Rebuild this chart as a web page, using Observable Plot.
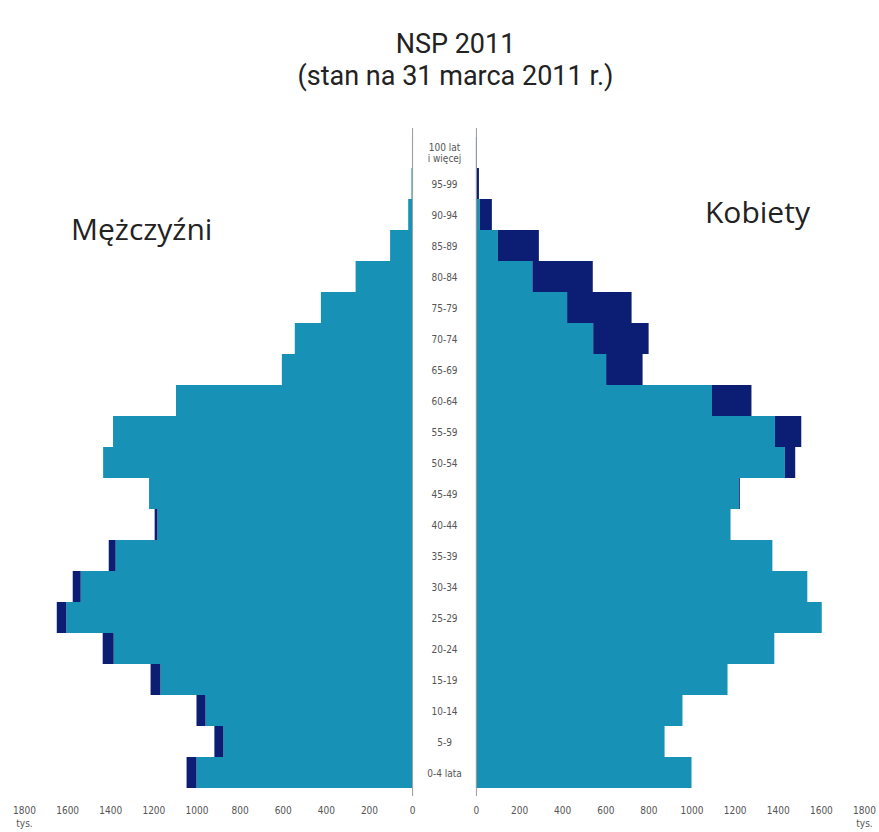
<!DOCTYPE html>
<html>
<head>
<meta charset="utf-8">
<script src="https://cdn.jsdelivr.net/npm/d3@7"></script>
<script src="https://cdn.jsdelivr.net/npm/@observablehq/plot@0.6"></script>
<style>
  html, body { margin: 0; padding: 0; background: #fff; }
  #wrap { position: relative; width: 879px; height: 832px; overflow: hidden; font-family: "Open Sans", "Noto Sans", sans-serif; }
  #title { width: 847px; padding-left: 32px; padding-top: 28px; height: 72px; text-align: center; font-family: Roboto, "Open Sans", sans-serif; font-size: 27px; color: #222; }
  #title div { height: 32px; line-height: 32px; white-space: nowrap; }
  .side { position: absolute; font-size: 30px; line-height: 30px; color: #222; }
  #chart svg { display: block; }
</style>
</head>
<body>
<div id="wrap">
  <div id="title"><div>NSP 2011</div><div>(stan na 31 marca 2011 r.)</div></div>
  <div class="side" style="left:71px; top:214px;">Mężczyźni</div>
  <div class="side" style="left:705px; top:197px;">Kobiety</div>
  <div id="chart"></div>
</div>
<script>
// Age groups, top to bottom
const ages = ["100 lat\ni więcej","95-99","90-94","85-89","80-84","75-79","70-74","65-69","60-64","55-59","50-54","45-49","40-44","35-39","30-34","25-29","20-24","15-19","10-14","5-9","0-4 lata"];
// Population in thousands (tys.)
const men   = [0.6, 3, 18, 102, 262, 423, 544, 604, 1095, 1387, 1433, 1220, 1194, 1407, 1574, 1648, 1435, 1213, 1000, 917, 1046];
const women = [3, 14, 74, 292, 542, 722, 801, 773, 1278, 1509, 1481, 1224, 1181, 1375, 1537, 1604, 1384, 1167, 958, 875, 1000];
const tickValues = [0, 200, 400, 600, 800, 1000, 1200, 1400, 1600, 1800];
const unitLabel = "tys.";

const LIGHT = "#1792b6";
const DARK = "#0c1e74";
const G = 148; // half-gap for the central label column, in data units
const XMAX = 1800 + G;

const rows = ages.map((a, i) => {
  const m = men[i], f = women[i], mn = Math.min(m, f);
  return {age: a, m, f, mn};
});

const light = [];
const dark = [];
for (const r of rows) {
  light.push({age: r.age, x1: -G, x2: -(r.mn + G)});
  light.push({age: r.age, x1: G, x2: r.mn + G});
  if (r.m > r.mn) dark.push({age: r.age, x1: -(r.mn + G), x2: -(r.m + G)});
  if (r.f > r.mn) dark.push({age: r.age, x1: r.mn + G, x2: r.f + G});
}

const ticks = [...tickValues.map(t => -(t + G)), ...tickValues.map(t => t + G)];

const chart = Plot.plot({
  width: 879,
  height: 732,
  marginLeft: 24,
  marginRight: 15,
  marginTop: 28,
  marginBottom: 36,
  style: {fontFamily: "'Liberation Sans Narrow', 'DejaVu Sans Condensed', Roboto, sans-serif", background: "#fff"},
  x: {domain: [-XMAX, XMAX]},
  y: {domain: ages, padding: 0, axis: null},
  marks: [
    Plot.barX(light, {y: "age", x1: "x1", x2: "x2", fill: LIGHT}),
    Plot.barX(dark, {y: "age", x1: "x1", x2: "x2", fill: DARK}),
    Plot.ruleX([-G, G], {stroke: "#9a9a9a", strokeWidth: 1}),
    Plot.text(rows, {x: 0, y: "age", text: "age", fontSize: 10, fill: "#555", lineHeight: 1.1}),
    Plot.axisX({ticks, tickFormat: d => String(Math.round(Math.abs(d) - G)), tickSize: 0, tickPadding: 10, fontSize: 10, fill: "#555", label: null}),
    Plot.text([{x: -XMAX, a: "start"}, {x: XMAX, a: "end"}], {x: "x", text: () => unitLabel, frameAnchor: "bottom", dy: 30, fontSize: 10, fill: "#555", textAnchor: d => d.a === "start" ? "start" : "end", dx: 0})
  ]
});
document.getElementById("chart").appendChild(chart);
</script>
</body>
</html>
